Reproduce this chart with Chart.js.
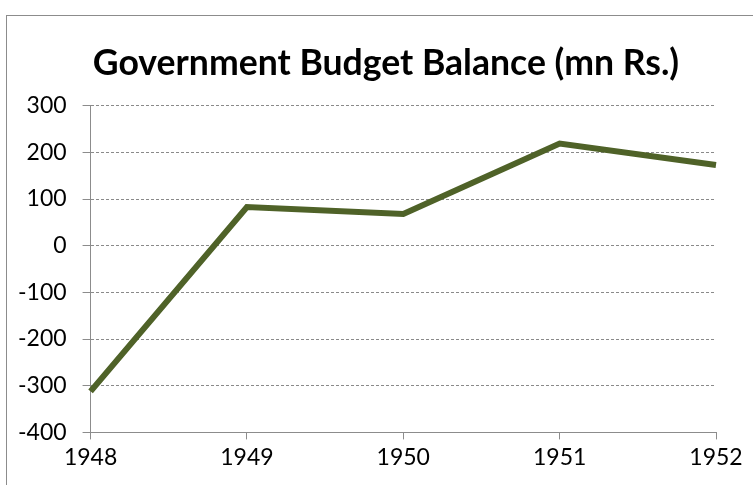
<!DOCTYPE html>
<html>
<head>
<meta charset="utf-8">
<script src="https://cdn.jsdelivr.net/npm/chart.js@4"></script>
<style>
  html, body { margin: 0; padding: 0; background: #fff; overflow: hidden; width: 753px; height: 485px; }
  #frame { position: absolute; left: 6px; top: 15px; width: 800px; height: 520px; border: 1px solid #8c8c8c; box-sizing: border-box; }
  #wrap { position: absolute; left: 0; top: 0; width: 770px; height: 485px; }
</style>
</head>
<body>
<div id="frame"></div>
<div id="wrap"><canvas id="chart"></canvas></div>
<script>
const years = ["1948", "1949", "1950", "1951", "1952"];
const balance = [-312, 83, 68, 219, 173];
const yTicks = [-400, -300, -200, -100, 0, 100, 200, 300];

const axisGrey = '#8c8c8c';
const font = 'Lato, "Open Sans", sans-serif';

new Chart(document.getElementById('chart'), {
  type: 'line',
  data: {
    labels: years,
    datasets: [{
      data: balance,
      borderColor: '#4f6228',
      borderWidth: 6,
      pointRadius: 0,
      tension: 0,
      fill: false
    }]
  },
  options: {
    responsive: true,
    maintainAspectRatio: false,
    animation: false,
    // canvas is a bit wider than the window so the title sits where Excel put it
    layout: { padding: { left: 2, right: 0, top: 42, bottom: 10 } },
    plugins: {
      legend: { display: false },
      tooltip: { enabled: false },
      title: {
        display: true,
        text: 'Government Budget Balance (mn Rs.)',
        color: '#000',
        font: { family: font, size: 35.6, weight: 'bold' },
        padding: { top: 0, bottom: 21 }
      }
    },
    scales: {
      x: {
        offset: false,
        afterFit: axis => { axis.paddingRight = 54; },
        grid: { drawOnChartArea: false, drawTicks: true, tickLength: 7, color: axisGrey },
        border: { display: true, color: axisGrey, width: 1 },
        ticks: { color: '#000', font: { family: font, size: 23 }, padding: 4, maxRotation: 0 }
      },
      y: {
        min: yTicks[0],
        max: yTicks[yTicks.length - 1],
        afterBuildTicks: axis => { axis.ticks = yTicks.map(v => ({ value: v })); },
        grid: { color: '#8a8a8a', lineWidth: 1, tickLength: 8, tickColor: axisGrey, tickBorderDash: [] },
        border: { display: true, color: axisGrey, dash: [3, 2] },
        ticks: { color: '#000', font: { family: font, size: 23 }, padding: 16 }
      }
    }
  }
});
</script>
</body>
</html>
